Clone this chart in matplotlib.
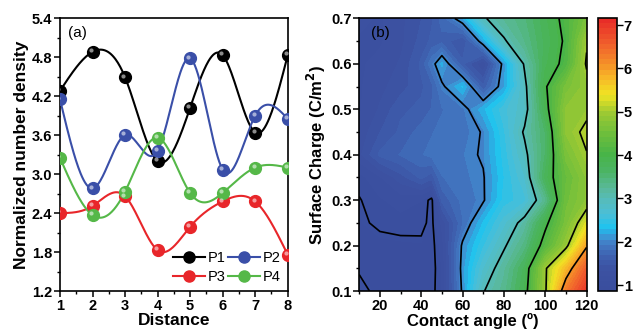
import numpy as np
import matplotlib
matplotlib.use("Agg")
import matplotlib.pyplot as plt
from matplotlib.colors import LinearSegmentedColormap, BoundaryNorm
from matplotlib.ticker import MultipleLocator, FormatStrFormatter
import matplotlib.transforms as mtransforms

plt.rcParams['font.family'] = ['Liberation Sans', 'DejaVu Sans']

# ---- panel (a) data ----
distance = [1, 2, 3, 4, 5, 6, 7, 8]
p1 = [4.28, 4.88, 4.49, 3.20, 4.02, 4.83, 3.64, 4.83]
p2 = [4.15, 2.78, 3.60, 3.36, 4.78, 3.07, 3.90, 3.85]
p3 = [2.40, 2.51, 2.66, 1.83, 2.19, 2.58, 2.58, 1.76]
p4 = [3.25, 2.37, 2.73, 3.56, 2.71, 2.71, 3.10, 3.10]

# ---- panel (b) data ----
angles = [10, 20, 30, 40, 45, 50, 60, 70, 80, 90, 100, 110, 120]
charges = [0.10, 0.15, 0.20, 0.25, 0.30, 0.35, 0.40, 0.45, 0.50, 0.55, 0.60, 0.65, 0.70]
density = [
    [1.08, 0.92, 0.90, 0.92, 0.95, 1.10, 2.05, 2.98, 3.30, 3.85, 4.95, 6.30, 7.00],
    [0.97, 0.90, 0.88, 0.90, 0.94, 1.10, 2.10, 2.75, 3.20, 3.75, 4.95, 5.75, 6.60],
    [0.92, 0.95, 0.96, 0.97, 0.94, 1.15, 2.05, 2.50, 2.95, 3.40, 4.20, 4.90, 5.95],
    [0.97, 1.03, 1.05, 1.04, 0.96, 1.25, 1.80, 2.30, 2.70, 3.15, 3.90, 4.60, 5.30],
    [0.99, 1.08, 1.15, 1.10, 0.95, 1.60, 1.85, 1.97, 2.45, 2.60, 3.30, 4.50, 4.80],
    [1.05, 1.20, 1.40, 1.60, 1.50, 1.80, 1.90, 1.98, 2.40, 2.75, 3.75, 4.40, 4.80],
    [1.30, 1.60, 1.70, 1.80, 1.85, 1.90, 1.92, 2.03, 2.45, 2.90, 3.60, 4.60, 4.98],
    [1.25, 1.45, 1.60, 1.75, 1.80, 1.85, 1.88, 2.02, 2.50, 3.05, 3.60, 4.80, 5.10],
    [1.20, 1.35, 1.55, 1.60, 1.70, 1.80, 1.90, 2.25, 2.60, 2.85, 3.85, 4.80, 4.90],
    [1.20, 1.30, 1.40, 1.55, 1.65, 1.95, 2.30, 1.60, 2.15, 2.90, 3.95, 4.60, 4.85],
    [1.20, 1.25, 1.35, 1.60, 1.90, 2.20, 1.60, 1.20, 2.10, 3.05, 3.80, 4.10, 5.05],
    [1.20, 1.20, 1.30, 1.50, 1.60, 1.65, 1.45, 2.15, 2.95, 3.35, 3.75, 4.05, 4.95],
    [1.25, 1.20, 1.30, 1.45, 1.55, 1.75, 2.15, 2.95, 3.25, 3.45, 3.80, 4.10, 4.60],
]
line_levels = [1, 2, 3, 4, 5, 6]


def natural_spline(x, y, n=300):
    x = np.asarray(x, float)
    y = np.asarray(y, float)
    k = len(x)
    h = np.diff(x)
    A = np.zeros((k, k))
    b = np.zeros(k)
    A[0, 0] = A[-1, -1] = 1
    for i in range(1, k - 1):
        A[i, i - 1] = h[i - 1]
        A[i, i] = 2 * (h[i - 1] + h[i])
        A[i, i + 1] = h[i]
        b[i] = 6 * ((y[i + 1] - y[i]) / h[i] - (y[i] - y[i - 1]) / h[i - 1])
    M = np.linalg.solve(A, b)
    xs = np.linspace(x[0], x[-1], n)
    idx = np.clip(np.searchsorted(x, xs) - 1, 0, k - 2)
    x0, x1 = x[idx], x[idx + 1]
    hh = x1 - x0
    a = (x1 - xs) / hh
    c = (xs - x0) / hh
    ys = (a * y[idx] + c * y[idx + 1]
          + ((a ** 3 - a) * M[idx] + (c ** 3 - c) * M[idx + 1]) * hh ** 2 / 6)
    return xs, ys


fig = plt.figure(figsize=(6.38, 3.35), dpi=100)
ax1 = fig.add_axes([0.094, 0.131, 0.357, 0.815])
ax2 = fig.add_axes([0.563, 0.131, 0.3564, 0.814])
cax = fig.add_axes([0.937, 0.131, 0.0298, 0.815])

# ---- panel (a) ----
series = [(p1, '#000000', 'P1'), (p2, '#3a4fa8', 'P2'),
          (p3, '#e8262a', 'P3'), (p4, '#55b848', 'P4')]
handles = {}
hl = mtransforms.offset_copy(ax1.transData, fig=fig, x=-1.2, y=1.2, units='points')
for vals, col, lab in series:
    xs, ys = natural_spline(distance, vals)
    ax1.plot(xs, ys, color=col, lw=1.5, zorder=2)
    ax1.plot(distance, vals, 'o', ms=8.5, mfc=col, mec=col, zorder=3)
    ax1.plot(distance, vals, 'o', ms=3, mfc='white', mec='none', alpha=0.55,
             transform=hl, zorder=4)
    h, = ax1.plot([], [], '-o', color=col, lw=1.5, ms=8, mfc=col, mec=col)
    handles[lab] = h

ax1.legend([handles['P1'], handles['P3'], handles['P2'], handles['P4']],
           ['P1', 'P3', 'P2', 'P4'], ncol=2, loc='lower right', frameon=False,
           fontsize=10.5, handlelength=2.2, handletextpad=0.2, columnspacing=0.1,
           labelspacing=0.3, borderaxespad=0.1, bbox_to_anchor=(1.0, 0.0))

ax1.set_xlim(1, 8)
ax1.set_ylim(1.2, 5.4)
ax1.xaxis.set_major_locator(MultipleLocator(1))
ax1.xaxis.set_minor_locator(MultipleLocator(0.5))
ax1.yaxis.set_major_locator(MultipleLocator(0.6))
ax1.yaxis.set_minor_locator(MultipleLocator(0.3))
ax1.yaxis.set_major_formatter(FormatStrFormatter('%.1f'))
ax1.set_xlabel('Distance', fontsize=12.5, fontweight='bold', labelpad=0)
ax1.set_ylabel('Normalized number density', fontsize=12.5, fontweight='bold', labelpad=2)
ax1.text(0.035, 0.945, '(a)', transform=ax1.transAxes, fontsize=11, va='center')

# ---- panel (b) ----
nodes = [(0.86, (58, 78, 158)), (1.3, (60, 82, 162)), (1.6, (62, 96, 175)),
         (1.9, (66, 122, 195)), (2.05, (62, 145, 210)), (2.25, (28, 196, 240)),
         (2.6, (75, 190, 215)), (2.9, (85, 188, 190)), (3.2, (90, 185, 155)),
         (3.6, (75, 180, 100)), (4.0, (72, 180, 72)), (4.5, (110, 190, 60)),
         (5.0, (160, 202, 50)), (5.4, (240, 228, 35)), (5.8, (247, 185, 40)),
         (6.1, (245, 145, 40)), (6.6, (240, 95, 45)), (7.16, (232, 45, 40))]
vmin, vmax = 0.86, 7.16
cmap = LinearSegmentedColormap.from_list(
    'rb', [((v - vmin) / (vmax - vmin), tuple(c / 255 for c in rgb)) for v, rgb in nodes])
levels = np.linspace(vmin, vmax, 54)
norm = BoundaryNorm(levels, cmap.N)

X, Y = np.meshgrid(angles, charges)
Z = np.array(density)
cf = ax2.contourf(X, Y, Z, levels=levels, cmap=cmap, norm=norm)
ax2.contour(X, Y, Z, levels=line_levels, colors='black', linewidths=1.2)

ax2.set_xlim(10, 120)
ax2.set_ylim(0.1, 0.7)
ax2.xaxis.set_major_locator(MultipleLocator(20))
ax2.xaxis.set_minor_locator(MultipleLocator(10))
ax2.yaxis.set_major_locator(MultipleLocator(0.1))
ax2.yaxis.set_minor_locator(MultipleLocator(0.05))
ax2.yaxis.set_major_formatter(FormatStrFormatter('%.1f'))
ax2.set_xlabel('Contact angle (º)', fontsize=12, fontweight='bold', labelpad=0)
ax2.set_ylabel('Surface Charge (C/m$^\\mathbf{2}$)', fontsize=12, fontweight='bold', labelpad=2)
ax2.text(0.05, 0.945, '(b)', transform=ax2.transAxes, fontsize=11, va='center')

cb = fig.colorbar(cf, cax=cax, ticks=[1, 2, 3, 4, 5, 6, 7])
cb.outline.set_linewidth(1.2)
cax.set_ylim(vmin, vmax)
cax.tick_params(axis='y', direction='out', length=4, width=1, labelsize=10.5, pad=1)
for t in cax.get_yticklabels():
    t.set_fontweight('bold')
cax.minorticks_off()

for ax in (ax1, ax2):
    for s in ax.spines.values():
        s.set_linewidth(1.2)
    ax.tick_params(which='major', direction='out', length=4, width=1.1, labelsize=10.5, pad=1.5)
    ax.tick_params(which='minor', direction='out', length=2.2, width=1)
    for t in ax.get_xticklabels() + ax.get_yticklabels():
        t.set_fontweight('bold')

fig.savefig('out.png', dpi=100)
